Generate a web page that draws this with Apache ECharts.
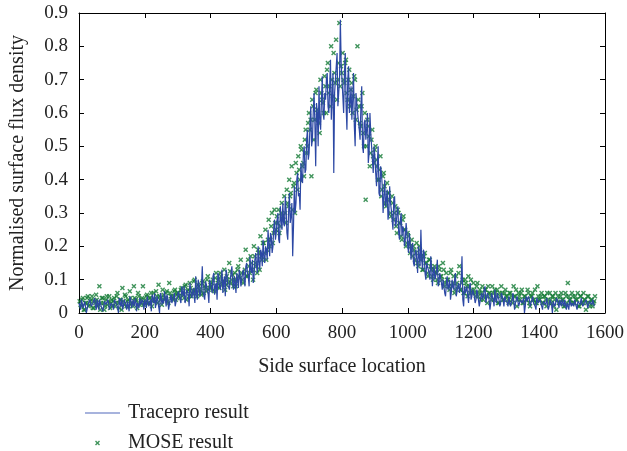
<!DOCTYPE html>
<html>
<head>
<meta charset="utf-8">
<script src="https://cdn.jsdelivr.net/npm/echarts@6/dist/echarts.min.js"></script>
<style>
  html, body { margin: 0; padding: 0; background: #fff; }
  #chart { width: 627px; height: 451px; }
</style>
</head>
<body>
<div id="chart"></div>
<script>
// Tracepro result in two interleaved passes
// pass A at x = 0, 5, 10, ...  pass B at x = 2.5, 7.5, ...
const traceStep = 5;
const traceValuesA = [
  0.03,0.01,0.04,0.02,0.035,0.005,0.03,0.045,0.015,0.03,0.02,0.04,0.01,0.035,0.025,0.005,0.04,0.02,0.03,0.015,
  0.035,0.01,0.04,0.025,0.0,0.03,0.045,0.02,0.035,0.01,0.03,0.05,0.015,0.04,0.025,0.005,0.035,0.045,0.02,0.03,
  0.04,0.015,0.05,0.03,0.005,0.045,0.06,0.02,0.035,0.0,0.05,0.04,0.065,0.02,0.045,0.01,0.055,0.035,0.06,0.025,
  0.05,0.07,0.03,0.06,0.08,0.04,0.075,0.02,0.09,0.055,0.07,0.11,0.04,0.085,0.06,0.14,0.05,0.095,0.07,0.03,
  0.1,0.06,0.12,0.08,0.04,0.11,0.07,0.13,0.09,0.05,0.115,0.08,0.1,0.14,0.07,0.09,0.12,0.075,0.11,0.085,
  0.13,0.08,0.15,0.11,0.17,0.12,0.09,0.16,0.14,0.2,0.13,0.18,0.22,0.15,0.19,0.25,0.17,0.23,0.2,0.28,
  0.24,0.3,0.21,0.28,0.33,0.26,0.31,0.22,0.36,0.29,0.17,0.38,0.33,0.42,0.36,0.45,0.39,0.5,0.43,0.55,
  0.48,0.62,0.52,0.66,0.44,0.6,0.68,0.55,0.71,0.58,0.64,0.72,0.6,0.76,0.65,0.42,0.7,0.78,0.66,0.88,
  0.7,0.6,0.78,0.55,0.74,0.63,0.58,0.72,0.5,0.66,0.6,0.52,0.68,0.48,0.58,0.55,0.45,0.6,0.5,0.42,
  0.47,0.38,0.5,0.35,0.42,0.3,0.4,0.34,0.28,0.38,0.31,0.25,0.35,0.27,0.32,0.22,0.3,0.26,0.2,0.27,
  0.2,0.24,0.16,0.21,0.14,0.19,0.12,0.17,0.25,0.13,0.18,0.1,0.15,0.12,0.17,0.08,0.14,0.11,0.16,0.09,
  0.12,0.07,0.1,0.05,0.11,0.08,0.04,0.1,0.07,0.12,0.05,0.09,0.06,0.17,0.02,0.06,0.08,0.03,0.09,0.05,
  0.06,0.03,0.07,0.04,0.02,0.06,0.05,0.08,0.03,0.05,0.01,0.06,0.04,0.07,0.03,0.05,0.02,0.06,0.04,0.05,
  0.04,0.02,0.05,0.03,0.06,0.01,0.04,0.05,0.02,0.045,0.03,0.0,0.05,0.03,0.04,0.02,0.05,0.035,0.01,0.04,
  0.03,0.045,0.01,0.04,0.025,0.05,0.02,0.035,0.0,0.04,0.03,0.05,0.015,0.035,0.04,0.02,0.045,0.03,0.01,0.04,
  0.03,0.02,0.04,0.01,0.035,0.025,0.045,0.015,0.03,0.04,0.02,0.035,0.025,0.03
];
const traceValuesB = [
  0.02,0.04,0.015,0.035,0.0,0.025,0.04,0.02,0.03,0.045,0.01,0.03,0.04,0.02,0.005,0.035,0.025,0.04,0.01,0.03,
  0.02,0.04,0.03,0.015,0.045,0.02,0.01,0.04,0.025,0.035,0.005,0.04,0.03,0.02,0.045,0.03,0.015,0.025,0.04,0.01,
  0.03,0.05,0.02,0.04,0.055,0.03,0.015,0.05,0.04,0.06,0.025,0.03,0.045,0.055,0.01,0.04,0.03,0.05,0.02,0.045,
  0.065,0.04,0.08,0.05,0.03,0.07,0.055,0.09,0.045,0.075,0.03,0.06,0.1,0.05,0.08,0.065,0.04,0.085,0.06,0.1,
  0.075,0.11,0.055,0.09,0.12,0.08,0.1,0.06,0.11,0.13,0.085,0.07,0.12,0.09,0.11,0.06,0.1,0.13,0.08,0.12,
  0.1,0.14,0.12,0.08,0.13,0.16,0.11,0.18,0.12,0.15,0.19,0.14,0.17,0.2,0.16,0.21,0.24,0.18,0.26,0.22,
  0.28,0.22,0.32,0.25,0.27,0.35,0.24,0.3,0.27,0.33,0.26,0.3,0.4,0.35,0.31,0.4,0.48,0.42,0.52,0.46,
  0.56,0.5,0.6,0.57,0.63,0.5,0.58,0.64,0.6,0.66,0.7,0.62,0.68,0.58,0.72,0.66,0.74,0.62,0.7,0.75,
  0.65,0.72,0.62,0.7,0.6,0.68,0.64,0.56,0.66,0.6,0.55,0.62,0.5,0.57,0.52,0.6,0.48,0.54,0.46,0.5,
  0.42,0.45,0.36,0.44,0.38,0.35,0.32,0.37,0.3,0.33,0.28,0.34,0.26,0.3,0.24,0.28,0.23,0.25,0.22,0.24,
  0.18,0.21,0.2,0.15,0.18,0.16,0.2,0.14,0.16,0.19,0.12,0.15,0.13,0.1,0.14,0.12,0.1,0.13,0.08,0.12,
  0.09,0.1,0.06,0.09,0.07,0.1,0.06,0.08,0.1,0.05,0.08,0.06,0.1,0.04,0.08,0.07,0.05,0.08,0.04,0.07,
  0.05,0.04,0.06,0.02,0.05,0.04,0.07,0.03,0.06,0.04,0.03,0.05,0.02,0.04,0.06,0.04,0.03,0.05,0.02,0.04,
  0.03,0.05,0.02,0.04,0.035,0.03,0.05,0.02,0.04,0.03,0.045,0.02,0.035,0.05,0.02,0.04,0.03,0.02,0.045,0.03,
  0.04,0.02,0.035,0.03,0.045,0.01,0.04,0.025,0.035,0.02,0.045,0.03,0.04,0.02,0.03,0.04,0.01,0.035,0.04,0.02,
  0.025,0.04,0.02,0.035,0.03,0.045,0.02,0.03,0.04,0.015,0.035,0.03,0.04,0.02
];

// MOSE result, two passes: A at x = 2, 7, ...  B at x = 4.5, 9.5, ...
const moseStep = 5;
const moseValuesA = [
  0.035,0.02,0.045,0.01,0.03,0.05,0.025,0.04,0.015,0.035,0.055,0.02,0.08,0.03,0.045,0.01,0.04,0.025,0.05,0.03,
  0.02,0.045,0.03,0.06,0.015,0.04,0.075,0.025,0.05,0.035,0.02,0.045,0.03,0.08,0.04,0.015,0.05,0.03,0.045,0.025,
  0.04,0.055,0.03,0.045,0.02,0.06,0.035,0.05,0.085,0.04,0.025,0.055,0.045,0.065,0.03,0.06,0.05,0.04,0.07,0.055,
  0.06,0.045,0.075,0.055,0.08,0.04,0.07,0.09,0.05,0.065,0.1,0.06,0.085,0.07,0.055,0.095,0.08,0.065,0.11,0.075,
  0.08,0.1,0.065,0.12,0.09,0.075,0.11,0.095,0.13,0.085,0.1,0.15,0.09,0.115,0.1,0.08,0.13,0.11,0.16,0.1,
  0.12,0.19,0.11,0.14,0.17,0.13,0.2,0.15,0.12,0.18,0.23,0.16,0.21,0.25,0.19,0.28,0.22,0.3,0.24,0.27,
  0.29,0.31,0.26,0.33,0.28,0.3,0.37,0.32,0.35,0.44,0.38,0.3,0.42,0.47,0.4,0.49,0.45,0.52,0.48,0.57,
  0.55,0.41,0.62,0.58,0.67,0.6,0.54,0.66,0.63,0.71,0.6,0.75,0.68,0.8,0.65,0.72,0.82,0.7,0.87,0.74,
  0.78,0.69,0.76,0.64,0.73,0.67,0.6,0.71,0.58,0.8,0.62,0.56,0.66,0.5,0.34,0.58,0.53,0.48,0.55,0.45,
  0.5,0.44,0.4,0.47,0.37,0.42,0.33,0.39,0.36,0.3,0.35,0.28,0.32,0.24,0.3,0.27,0.22,0.29,0.25,0.21,
  0.23,0.18,0.22,0.2,0.16,0.21,0.14,0.19,0.17,0.13,0.18,0.15,0.11,0.16,0.13,0.1,0.14,0.12,0.09,0.13,
  0.11,0.15,0.08,0.12,0.1,0.07,0.13,0.09,0.06,0.11,0.08,0.14,0.07,0.1,0.06,0.09,0.05,0.08,0.1,0.06,
  0.07,0.05,0.09,0.06,0.04,0.08,0.05,0.07,0.03,0.06,0.05,0.08,0.04,0.06,0.07,0.03,0.05,0.06,0.04,0.07,
  0.05,0.03,0.06,0.04,0.08,0.05,0.02,0.06,0.04,0.07,0.03,0.05,0.04,0.06,0.02,0.05,0.04,0.07,0.03,0.05,
  0.04,0.06,0.03,0.05,0.02,0.04,0.06,0.03,0.05,0.04,0.01,0.05,0.03,0.06,0.04,0.02,0.05,0.09,0.04,0.03,
  0.05,0.03,0.04,0.06,0.02,0.05,0.03,0.04,0.01,0.05,0.03,0.04,0.02,0.035
];
const moseValuesB = [
  0.025,0.04,0.01,0.03,0.045,0.02,0.035,0.05,0.015,0.03,0.04,0.025,0.01,0.045,0.03,0.02,0.05,0.035,0.015,0.04,
  0.035,0.02,0.05,0.03,0.04,0.01,0.035,0.055,0.02,0.04,0.065,0.03,0.02,0.045,0.035,0.06,0.025,0.04,0.08,0.03,
  0.05,0.03,0.045,0.06,0.035,0.04,0.065,0.03,0.05,0.045,0.07,0.04,0.06,0.035,0.09,0.05,0.045,0.065,0.04,0.06,
  0.05,0.07,0.06,0.045,0.085,0.065,0.05,0.075,0.06,0.095,0.07,0.05,0.08,0.065,0.09,0.06,0.075,0.1,0.07,0.085,
  0.09,0.07,0.105,0.08,0.1,0.12,0.085,0.095,0.07,0.11,0.09,0.125,0.1,0.08,0.12,0.095,0.14,0.105,0.12,0.09,
  0.13,0.11,0.16,0.12,0.15,0.1,0.17,0.14,0.19,0.13,0.17,0.21,0.18,0.16,0.22,0.2,0.26,0.21,0.31,0.25,
  0.27,0.24,0.3,0.29,0.35,0.27,0.33,0.4,0.36,0.31,0.39,0.45,0.37,0.43,0.5,0.44,0.41,0.55,0.5,0.6,
  0.58,0.64,0.52,0.66,0.61,0.57,0.7,0.64,0.6,0.68,0.73,0.66,0.62,0.7,0.78,0.69,0.64,0.75,0.68,0.72,
  0.7,0.75,0.66,0.7,0.62,0.69,0.65,0.7,0.61,0.64,0.57,0.62,0.54,0.6,0.5,0.56,0.44,0.52,0.47,0.49,
  0.46,0.4,0.43,0.35,0.41,0.38,0.32,0.36,0.34,0.29,0.33,0.3,0.26,0.31,0.27,0.23,0.28,0.25,0.2,0.24,
  0.21,0.2,0.17,0.19,0.18,0.15,0.2,0.16,0.13,0.17,0.15,0.12,0.16,0.14,0.11,0.13,0.12,0.1,0.14,0.11,
  0.1,0.13,0.09,0.1,0.08,0.12,0.08,0.11,0.07,0.09,0.12,0.07,0.09,0.06,0.1,0.08,0.11,0.06,0.07,0.09,
  0.06,0.08,0.05,0.07,0.06,0.04,0.07,0.05,0.08,0.06,0.04,0.06,0.07,0.05,0.03,0.06,0.08,0.04,0.06,0.05,
  0.04,0.06,0.05,0.03,0.05,0.07,0.04,0.05,0.06,0.03,0.05,0.04,0.07,0.03,0.05,0.06,0.04,0.03,0.08,0.04,
  0.05,0.03,0.05,0.04,0.06,0.03,0.04,0.05,0.02,0.06,0.04,0.03,0.05,0.04,0.02,0.06,0.03,0.05,0.04,0.06,
  0.03,0.05,0.04,0.02,0.05,0.03,0.06,0.04,0.03,0.05,0.02,0.04,0.03,0.05
];

const xTicks = [0, 200, 400, 600, 800, 1000, 1200, 1400, 1600];
const yTicks = [0, 0.1, 0.2, 0.3, 0.4, 0.5, 0.6, 0.7, 0.8, 0.9];

const font = "Liberation Serif, DejaVu Serif, serif";
const blue = "#2c48a4";
const green = "#137a35";
const xMark = "path://M0,2L2,0L5,3L8,0L10,2L7,5L10,8L8,10L5,7L2,10L0,8L3,5Z";

// interleave the two passes into one line
const traceData = [];
for (let i = 0; i < traceValuesA.length; i++) {
  traceData.push([i * traceStep, traceValuesA[i]]);
  if (i < traceValuesB.length) traceData.push([i * traceStep + 2.5, traceValuesB[i]]);
}
const moseData = moseValuesA.map((v, i) => [2 + i * moseStep, v])
  .concat(moseValuesB.map((v, i) => [4.5 + i * moseStep, v]));

const chart = echarts.init(document.getElementById("chart"));

const axisBase = {
  axisLine: { show: true, onZero: false, lineStyle: { color: "#000", width: 1 } },
  axisTick: { show: true, inside: true, length: 5, lineStyle: { color: "#000" } },
  splitLine: { show: false },
};
const tickText = { fontFamily: font, fontSize: 19, color: "#222" };
const nameText = { fontFamily: font, fontSize: 20, color: "#222" };

chart.setOption({
  animation: false,
  backgroundColor: "#fff",
  textStyle: { fontFamily: font },
  grid: { left: 79, right: 19, top: 13, bottom: 138 },
  xAxis: [
    Object.assign({}, axisBase, {
      type: "value",
      min: xTicks[0],
      max: xTicks[xTicks.length - 1],
      interval: 200,
      name: "Side surface location",
      nameLocation: "middle",
      nameGap: 44,
      nameTextStyle: nameText,
      axisLabel: Object.assign({ margin: 11, formatter: (v) => String(v) }, tickText),
    }),
    Object.assign({}, axisBase, {
      type: "value",
      position: "top",
      min: xTicks[0],
      max: xTicks[xTicks.length - 1],
      interval: 200,
      axisLabel: { show: false },
    }),
  ],
  yAxis: [
    Object.assign({}, axisBase, {
      type: "value",
      min: yTicks[0],
      max: yTicks[yTicks.length - 1],
      interval: 0.1,
      name: "Normalised surface flux density",
      nameLocation: "middle",
      nameGap: 51,
      nameTextStyle: nameText,
      axisLabel: Object.assign({ margin: 11, formatter: (v) => String(+v.toFixed(1)) }, tickText),
    }),
    Object.assign({}, axisBase, {
      type: "value",
      position: "right",
      min: yTicks[0],
      max: yTicks[yTicks.length - 1],
      interval: 0.1,
      axisLabel: { show: false },
    }),
  ],
  legend: [
    {
      left: 80,
      top: 398,
      itemWidth: 35,
      itemHeight: 10,
      textStyle: Object.assign({ padding: [0, 0, 0, 3] }, nameText),
      data: [{ name: "Tracepro result", icon: "path://M0,4.5L35,4.5L35,5.5L0,5.5Z", itemStyle: { color: "#5068bb" } }],
    },
    {
      left: 90,
      top: 428,
      itemWidth: 35,
      itemHeight: 5,
      textStyle: Object.assign({ padding: [0, 0, 0, 8] }, nameText),
      data: [{ name: "MOSE result", icon: xMark }],
    },
  ],
  series: [
    {
      name: "Tracepro result",
      type: "line",
      data: traceData,
      symbol: "none",
      lineStyle: { color: blue, width: 1.2 },
      itemStyle: { color: blue },
    },
    {
      name: "MOSE result",
      type: "scatter",
      data: moseData,
      symbol: xMark,
      symbolSize: 5,
      itemStyle: { color: green },
    },
  ],
});
</script>
</body>
</html>
